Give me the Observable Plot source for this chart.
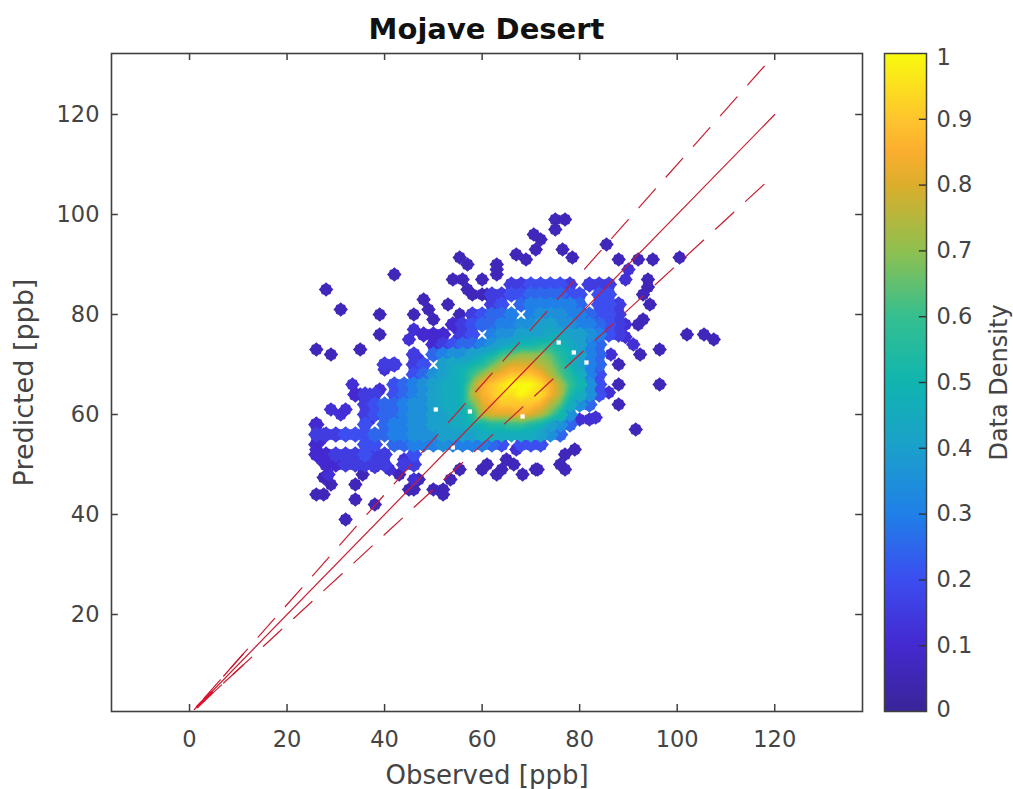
<!DOCTYPE html>
<html><head><meta charset="utf-8">
<script src="https://cdn.jsdelivr.net/npm/d3@7"></script>
<script src="https://cdn.jsdelivr.net/npm/@observablehq/plot@0.6"></script>
<style>
html,body{margin:0;padding:0;background:#fff;overflow:hidden}
#wrap{width:1013px;height:789px;font-family:"DejaVu Sans",sans-serif}
#title{height:44px;width:773px;padding-left:100px;text-align:center;font:bold 29px "DejaVu Sans",sans-serif;color:#111;line-height:58px;box-sizing:content-box;white-space:nowrap}
#row{display:flex}
svg{display:block}
</style></head><body>
<div id="wrap"><div id="title">Mojave Desert</div><div id="row"></div></div>
<script>
const xLabel = "Observed [ppb]";
const yLabel = "Predicted [ppb]";
const barLabel = "Data Density";
const xTicks = [0,20,40,60,80,100,120];
const yTicks = [20,40,60,80,100,120];
const barTicks = [.1,.2,.3,.4,.5,.6,.7,.8,.9];
const xDomain = [-16,138];
const yDomain = [0.6,132.2];
const colorStops = [0,.1,.2,.3,.4,.5,.6,.7,.8,.85,.9,1];
const colorHex = ["#3a2598","#4429d0","#3c4ef0","#2080e8","#1ba0cc","#10b5b0","#35bf90","#8fc050","#dcae2c","#fbae2e","#fec52e","#f9fb0e"];

// isolated markers [observed, predicted]
const farPoints = [[28,85],[31,81],[26,73],[29,72],[35,73],[39,80],[39,76],[42,88],[46,80],[48,83],[49,81],[50,79],[53,82],[55.4,80],[55.4,91.4],[57,90],[54,87],[56,87],[57,85],[58,84],[60,84],[61,84],[60,87],[63,90],[63,89],[63,88],[67,92],[69,91],[71,93],[70.6,96],[72,95],[75,99],[77,99],[75,97],[76.5,93],[78.5,91.4],[85.5,94],[88,91],[92,91],[95,91],[100.5,91.4],[94,87],[94,85.5],[93,84],[94.4,82],[93,79],[92,78],[92.4,72],[96.4,73],[88,70],[88,66],[96.4,66],[88,62],[91.5,57],[102,76],[105.5,76],[107.5,75],[32,39],[38,42],[34,43],[34,46],[35.5,48],[26,44],[27.5,44],[29,46],[27.5,47.4],[77,52],[76,50],[77,49],[79,53],[71.4,49],[68.3,48],[66.5,50],[65,51],[64,49],[63,48],[61,50],[60,49],[55.4,49],[53.5,47],[50,45],[52,45],[52,44],[46,45],[45,45],[47,47],[43,48],[71,49]];
const nearPoints = [[46,77],[45,75],[47,71],[47,69],[41.6,70],[40,69],[55,77],[55,75],[90,89],[89.4,87],[89.4,78],[89.4,75.5],[91,74],[86.4,72],[86,64.4],[83.3,59.4],[80,59],[82,59],[67,53],[33.4,66],[35,64],[39,65],[37,64],[37,61],[37,59],[29,61],[32,61],[31,60],[26,58],[27.5,56],[27,55],[26,53],[27,51],[30,50],[28.5,48],[42.6,65.4],[44,51],[41,49],[38,49.5],[46,50],[46,47]];
// small gaps inside the cloud
const holes = [[68.3,59.6],[50.5,61],[57.5,60.6],[78.8,72.4],[81.4,70.4],[54,53.4],[75.7,74.4]];

// density rows: each letter is density*20 (a=0 ... u=1), columns every 2 ppb from 26
const gridY = [86,84,82,80,78,76,74,72,70,68,66,64,62,60,58,56,54,52,50];
const gridRows = [
"                    ddeeeed ddd",
"                  ddeeffffee ee",
"                  de fgggggf eed",
"                deffg ghhhggfeed",
"              cdeffgghhiihhggfed",
"           ccc de ghhiiijjiihged",
"            cdeffghijkkllkjigf",
"          d fghhijkmnooonlkigf",
"       dd de ijjklnpqqqpomkigf",
"          efhijkmoqrsssrpnljge",
"        efghijjkorstuuutrpmkhe",
"    cdd efghijjkprsttuttrpljhe",
"     deffghhijjknqrssssrpnjhf",
"     deffghhiijjlpqqqrqpnkh",
"c    e fgghhiijjkkllmmlkihf",
"dddeeeffgghhhiiiijjjjjjihf",
"c    ee ffggghggggfe eee",
"ccdddedd  e",
" ccddddd dd"
];

const cloud = [];
gridRows.forEach((row,r)=>{ [...row].forEach((ch,i)=>{ if(ch!==" ") cloud.push({x:26+2*i,y:gridY[r],d:(ch.charCodeAt(0)-97)/20}); }); });
const inner = cloud.filter(d=>d.d>=.4);
cloud.sort((a,b)=>a.d-b.d);
const loose = [...farPoints.map(([x,y])=>({x,y,d:.06})),...nearPoints.map(([x,y])=>({x,y,d:.12}))];

// the marker: round blob with four spikes
const blob = {draw(ctx,size){
  const r=Math.sqrt(size/Math.PI), radii=[1.15,.9,1,.9];
  for(let k=0;k<16;k++){const a=k*Math.PI/8,q=radii[k%4]*r,px=q*Math.cos(a),py=q*Math.sin(a); k?ctx.lineTo(px,py):ctx.moveTo(px,py);}
  ctx.closePath();
}};
// barycentric interpolation kept inside the hull of the dense points
const hullInterpolate = (I,w,h,X,Y,V)=>{
  const W = Plot.interpolatorBarycentric()(I,w,h,X,Y,V);
  const hull = d3.polygonHull(Array.from(I,i=>[X[i],Y[i]]));
  const out = new Float64Array(W.length);
  for(let j=0,k=0;j<h;j++) for(let i=0;i<w;i++,k++) out[k]=d3.polygonContains(hull,[i+.5,j+.5])?W[k]:NaN;
  return out;
};

const colorScale = {type:"linear",domain:colorStops,range:colorHex,clamp:true};
const ink="#404040", txt="#444", red="#c81e32";
const ox=[1,120], oxU=[1,118], oxL=[1,118], hatch=[7,11];
const t=1.4, tx=1.4;
const main = Plot.plot({
  width:873,height:745,marginLeft:111,marginRight:11,marginTop:9,marginBottom:78,
  style:{background:"#fff",fontFamily:"DejaVu Sans",overflow:"visible"},
  x:{domain:xDomain,axis:null},y:{domain:yDomain,axis:null},color:colorScale,
  marks:[
    Plot.dot(loose,{x:"x",y:"y",fill:"d",r:6.3,symbol:blob}),
    Plot.dot(cloud,{x:"x",y:"y",fill:"d",r:7.2,symbol:blob}),
    Plot.raster(inner,{x:"x",y:"y",fill:"d",interpolate:hullInterpolate,pixelSize:1}),
    Plot.dot(holes,{x:d=>d[0],y:d=>d[1],r:2.4,fill:"#fff",symbol:"square"}),
    Plot.line(ox.map(v=>({x:v,y:v})),{x:"x",y:"y",stroke:red,strokeWidth:1.2}),
    Plot.line(oxU.map(v=>({x:v,y:1.1*v})),{x:"x",y:"y",stroke:red,strokeWidth:1.2,strokeDasharray:"25 16",strokeDashoffset:27}),
    Plot.line(oxL.map(v=>({x:v,y:.9*v})),{x:"x",y:"y",stroke:red,strokeWidth:1.2,strokeDasharray:"25 16",strokeDashoffset:29}),
    Plot.line(hatch.map(v=>({x:v,y:1.1*v})),{x:"x",y:"y",stroke:red,strokeWidth:1.2}),
    Plot.line(hatch.map(v=>({x:v,y:.9*v})),{x:"x",y:"y",stroke:red,strokeWidth:1.2}),
    Plot.line([1.6,4.5].map(v=>({x:v,y:v*.97})),{x:"x",y:"y",stroke:"#e0102e",strokeWidth:3}),
    Plot.ruleX(xTicks,{y1:yDomain[0],y2:yDomain[0]+t,stroke:ink,strokeWidth:1.5}),
    Plot.ruleX(xTicks,{y1:yDomain[1],y2:yDomain[1]-t,stroke:ink,strokeWidth:1.5}),
    Plot.ruleY(yTicks,{x1:xDomain[0],x2:xDomain[0]+tx,stroke:ink,strokeWidth:1.5}),
    Plot.ruleY(yTicks,{x1:xDomain[1],x2:xDomain[1]-tx,stroke:ink,strokeWidth:1.5}),
    Plot.frame({stroke:ink,strokeWidth:1.6}),
    Plot.text(xTicks,{x:d=>d,frameAnchor:"bottom",dy:35,text:d=>String(d),fontSize:22.5,fill:txt}),
    Plot.text(yTicks,{y:d=>d,frameAnchor:"left",textAnchor:"end",dx:-12,text:d=>String(d),fontSize:22.5,fill:txt}),
    Plot.text([xLabel],{frameAnchor:"bottom",dy:72,text:d=>d,fontSize:26,fill:txt}),
    Plot.text([yLabel],{frameAnchor:"left",textAnchor:"middle",dx:-87,rotate:-90,text:d=>d,fontSize:27,fill:txt})
  ]
});
const bar = Plot.plot({
  width:140,height:745,marginLeft:11,marginRight:87,marginTop:9,marginBottom:78,
  style:{background:"#fff",fontFamily:"DejaVu Sans",overflow:"visible"},
  x:{domain:[0,1],axis:null},y:{domain:[0,1],axis:null},color:colorScale,
  marks:[
    Plot.raster({x1:0,x2:1,y1:0,y2:1,width:1,height:300,fill:(x,y)=>y,imageRendering:"auto"}),
    Plot.ruleY(barTicks,{x1:.83,x2:1,stroke:"#333",strokeWidth:1.4}),
    Plot.frame({stroke:ink,strokeWidth:1.5}),
    Plot.text(barTicks,{y:d=>d,frameAnchor:"right",textAnchor:"start",dx:10,text:d=>String(d),fontSize:22.5,fill:txt}),
    Plot.text([1],{y:d=>d,frameAnchor:"right",textAnchor:"start",dx:10,dy:4,text:d=>String(d),fontSize:22.5,fill:txt}),
    Plot.text([0],{y:d=>d,frameAnchor:"right",textAnchor:"start",dx:10,dy:-2,text:d=>String(d),fontSize:22.5,fill:txt}),
    Plot.text([barLabel],{frameAnchor:"right",textAnchor:"middle",dx:73,rotate:-90,text:d=>d,fontSize:24,fill:txt})
  ]
});
document.getElementById("row").append(main,bar);
</script>
</body></html>
